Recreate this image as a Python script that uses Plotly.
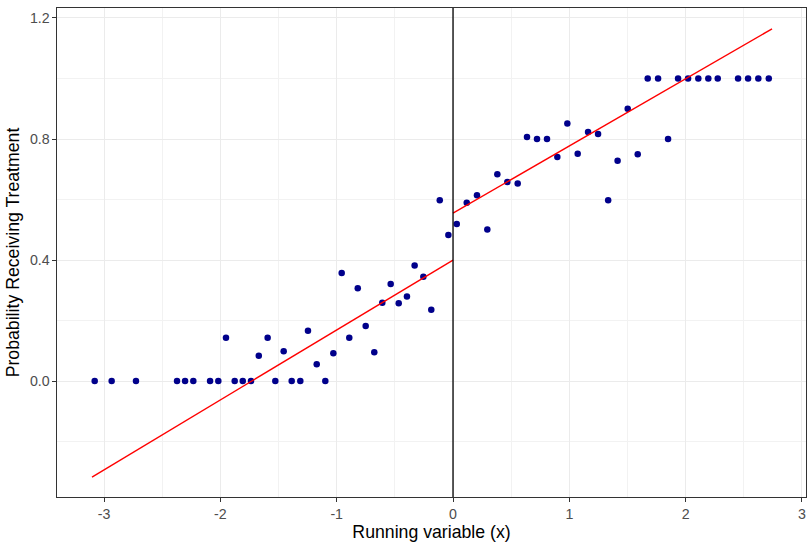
import plotly.graph_objects as go

# Binned means of treatment probability by running variable
x_bins = [-3.081, -2.935, -2.726, -2.373, -2.304, -2.233, -2.089, -2.018, -1.952,
          -1.877, -1.808, -1.737, -1.670, -1.594, -1.528, -1.456, -1.387, -1.313,
          -1.247, -1.172, -1.098, -1.029, -0.957, -0.892, -0.819, -0.751, -0.677,
          -0.608, -0.536, -0.467, -0.396, -0.330, -0.255, -0.187, -0.114, -0.040,
          0.032, 0.118, 0.206, 0.295, 0.381, 0.467, 0.556, 0.636, 0.722, 0.808,
          0.897, 0.983, 1.072, 1.161, 1.247, 1.334, 1.415, 1.502, 1.588, 1.674,
          1.763, 1.849, 1.935, 2.021, 2.109, 2.195, 2.276, 2.451, 2.537, 2.625, 2.715]
p_treat = [0.0, 0.0, 0.0, 0.0, 0.0, 0.0, 0.0, 0.0, 0.143,
           0.0, 0.0, 0.0, 0.084, 0.143, 0.0, 0.099, 0.0, 0.0,
           0.166, 0.056, 0.0, 0.092, 0.357, 0.143, 0.307, 0.182, 0.095,
           0.259, 0.321, 0.257, 0.280, 0.382, 0.345, 0.236, 0.598, 0.483,
           0.519, 0.589, 0.614, 0.501, 0.684, 0.658, 0.653, 0.807, 0.800, 0.800,
           0.741, 0.851, 0.751, 0.823, 0.817, 0.598, 0.728, 0.900, 0.750, 1.0,
           1.0, 0.800, 1.0, 1.0, 1.0, 1.0, 1.0, 1.0, 1.0, 1.0, 1.0]

# Linear fits on each side of the cutoff
fit_left_x = [-3.104, 0.0]
fit_left_y = [-0.317, 0.400]
fit_right_x = [0.0, 2.743]
fit_right_y = [0.555, 1.164]

cutoff = 0.0

x_ticks = [-3, -2, -1, 0, 1, 2, 3]
x_tick_text = ["-3", "-2", "-1", "0", "1", "2", "3"]
y_ticks = [0.0, 0.4, 0.8, 1.2]
y_tick_text = ["0.0", "0.4", "0.8", "1.2"]

FONT = "Liberation Sans, Arial, sans-serif"

fig = go.Figure()
fig.add_trace(go.Scatter(x=x_bins, y=p_treat, mode="markers",
                         marker=dict(color="#00008B", size=6.5, line=dict(width=0)),
                         showlegend=False))
fig.add_trace(go.Scatter(x=fit_left_x, y=fit_left_y, mode="lines",
                         line=dict(color="#FF0000", width=1.4), showlegend=False))
fig.add_trace(go.Scatter(x=fit_right_x, y=fit_right_y, mode="lines",
                         line=dict(color="#FF0000", width=1.4), showlegend=False))
fig.add_vline(x=cutoff, line=dict(color="black", width=1.3), layer="above")

axis_common = dict(
    showline=True, linecolor="#333333", linewidth=1.1, mirror=True,
    ticks="outside", ticklen=3.5, tickcolor="#333333", tickwidth=1.1,
    showgrid=True, gridcolor="#EBEBEB", gridwidth=1.1,
    zeroline=False,
    tickfont=dict(family=FONT, size=14.2, color="#4D4D4D"),
    title_font=dict(family=FONT, size=17.7, color="#000000"),
)

fig.update_xaxes(range=[-3.405, 3.035], tickvals=x_ticks, ticktext=x_tick_text,
                 minor=dict(dtick=0.5, tick0=0, showgrid=True, gridcolor="#F2F2F2", gridwidth=0.8, ticks=""),
                 title_text="Running variable (x)", title_standoff=3, **axis_common)
fig.update_yaxes(range=[-0.383, 1.233], tickvals=y_ticks, ticktext=y_tick_text,
                 minor=dict(dtick=0.2, tick0=0, showgrid=True, gridcolor="#F2F2F2", gridwidth=0.8, ticks=""),
                 title_text="Probability Receiving Treatment", title_standoff=5, **axis_common)

fig.update_layout(
    width=808, height=546,
    margin=dict(l=57, r=2, t=8, b=49),
    plot_bgcolor="white", paper_bgcolor="white",
    font=dict(family=FONT),
)

fig.write_html("out.html")
